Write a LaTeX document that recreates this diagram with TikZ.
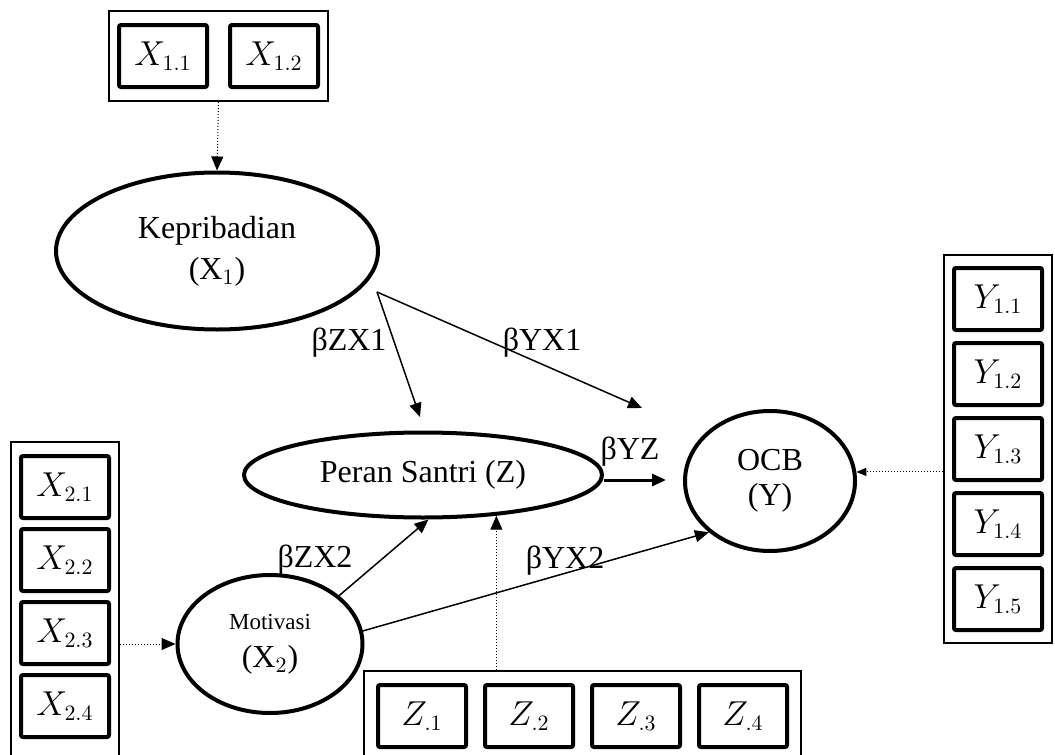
\documentclass[tikz,border=0pt]{standalone}
\usepackage{fontspec}
\setmainfont{Liberation Serif}
\usetikzlibrary{arrows.meta, fit, positioning, shapes.geometric}

\tikzset{
  indicator/.style={draw, line width=2pt, rounded corners=1pt, minimum width=44pt, minimum height=31pt, inner sep=0pt},
  block/.style={draw, line width=1pt, inner xsep=4pt, inner ysep=6pt},
  latent/.style={draw, ellipse, line width=2pt, inner sep=0pt, align=center},
  effect/.style={->, line width=0.75pt},
  loading/.style={->, line width=0.5pt, densely dotted},
  coef/.style={inner sep=0pt}
}

\begin{document}
\begin{tikzpicture}[x=0.5pt, y=-0.5pt, node distance=37.5pt, on grid,
    font=\fontsize{16pt}{19pt}\selectfont, >={Triangle[length=7pt,width=6pt]}]
%   \draw[help lines] (0,0) grid (1055,755);
    \useasboundingbox (0,0) rectangle (1055,755);
    \clip (0,0) rectangle (1055,755);

    % indicators
    \node[indicator] (x11) at (163,56) {$X_{1.1}$};
    \node[indicator, right=55.5pt of x11] (x12) {$X_{1.2}$};
    \node[block, fit=(x11)(x12)] (x1grp) {};

    \node[indicator] (x21) at (65,487) {$X_{2.1}$};
    \node[indicator, below=36.5pt of x21] (x22) {$X_{2.2}$};
    \node[indicator, below=36.5pt of x22] (x23) {$X_{2.3}$};
    \node[indicator, below=36.5pt of x23] (x24) {$X_{2.4}$};
    \coordinate (x2low) at (65,800);
    \node[block, fit=(x21)(x24)(x2low)] (x2grp) {};

    \node[indicator] (y11) at (998,299) {$Y_{1.1}$};
    \node[indicator, below=of y11] (y12) {$Y_{1.2}$};
    \node[indicator, below=of y12] (y13) {$Y_{1.3}$};
    \node[indicator, below=of y13] (y14) {$Y_{1.4}$};
    \node[indicator, below=of y14] (y15) {$Y_{1.5}$};
    \node[block, inner ysep=5.5pt, fit=(y11)(y15)] (ygrp) {};

    \node[indicator] (z1) at (422,716) {$Z_{.1}$};
    \node[indicator, right=53.5pt of z1] (z2) {$Z_{.2}$};
    \node[indicator, right=53.5pt of z2] (z3) {$Z_{.3}$};
    \node[indicator, right=53.5pt of z3] (z4) {$Z_{.4}$};
    \coordinate (zlow) at (580,800);
    \node[block, inner xsep=6pt, fit=(z1)(z4)(zlow)] (zgrp) {};

    % latent variables
    \node[latent, minimum width=161pt, minimum height=78.5pt] (kep) at (217,251) {Kepribadian\\[1.5pt](X$_1$)};
    \node[latent, minimum width=179pt, minimum height=42.5pt] (peran) at (423,475) {Peran Santri (Z)};
    \node[latent, minimum width=85pt, minimum height=70pt] (ocb) at (770,481) {OCB\\[-1.5pt](Y)};
    \node[latent, minimum width=92.5pt, minimum height=69pt] (mot) at (270,644) {{\fontsize{11.5pt}{14pt}\selectfont Motivasi}\\[0pt](X$_2$)};

    % measurement arrows
    \draw[loading] (x1grp.south) -- (kep.north);
    \draw[loading] (mot -| x2grp.east) -- (mot.west);
    \draw[loading] (zgrp.north -| peran.-29) -- (peran.-29);
    \draw[loading, >={Triangle[length=5pt,width=4pt]}] (ocb.6 -| ygrp.west) -- (ocb.6);

    % structural paths
    \coordinate (kfork) at (377,292);
    \coordinate (zx1end) at (420,417);
    \coordinate (yx1end) at (642,408);
    \coordinate (yzend) at (666,480);
    \draw[effect] (kfork) -- (zx1end);
    \draw[effect] (kfork) -- (yx1end);
    \draw[effect] (mot.35) -- (peran.-83);
    \draw[effect] (mot.8) -- (ocb.-140);
    \draw[effect, line width=1.5pt] (peran.east |- yzend) -- (yzend);

    % coefficients
    \node[coef] (bzx1) at (349,343) {βZX1};
    \node[coef] (byx1) at (542,343) {βYX1};
    \node[coef] (byz) at (630,452) {βYZ};
    \node[coef] (bzx2) at (315,560) {βZX2};
    \node[coef] (byx2) at (565,561) {βYX2};
\end{tikzpicture}
\end{document}
